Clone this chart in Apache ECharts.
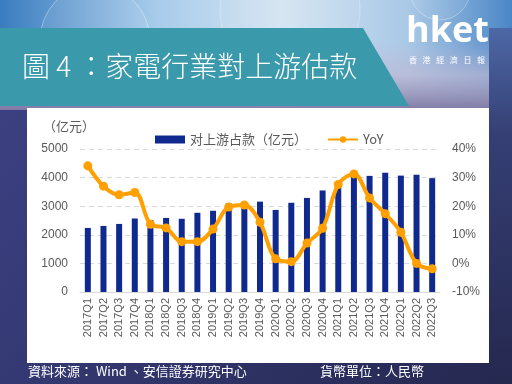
<!DOCTYPE html>
<html>
<head>
<meta charset="utf-8">
<script src="https://cdn.jsdelivr.net/npm/echarts@6/dist/echarts.min.js"></script>
<style>
html,body{margin:0;padding:0;background:#2c2f5c;}
#c{width:512px;height:384px;}
</style>
</head>
<body>
<div id="c"></div>
<script>
const categories = ['2017Q1','2017Q2','2017Q3','2017Q4','2018Q1','2018Q2','2018Q3','2018Q4','2019Q1','2019Q2','2019Q3','2019Q4','2020Q1','2020Q2','2020Q3','2020Q4','2021Q1','2021Q2','2021Q3','2021Q4','2022Q1','2022Q2','2022Q3'];
const upstreamFunds = [2240,2310,2380,2570,2520,2590,2560,2770,2840,3100,3050,3160,2870,3120,3290,3550,3780,4030,4060,4170,4070,4100,3980];
const yoy = [34.1,27.0,24.0,24.8,13.7,12.4,7.6,7.6,12.0,19.7,20.4,14.4,1.6,0.6,7.1,12.3,27.6,31.3,22.9,17.4,10.9,0.0,-1.9];
const leftTicks = {min:0, max:5000, interval:1000};
const rightTicks = {min:-10, max:40, interval:10};

const chart = echarts.init(document.getElementById('c'), null, {renderer:'canvas'});
const cjk = '"Noto Sans CJK TC","Noto Sans CJK SC",sans-serif';
const logoChars = ['香','港','經','濟','日','報'];
const graphics = [
  {type:'rect', z:-20, shape:{x:0,y:0,width:512,height:384},
   style:{fill:new echarts.graphic.LinearGradient(0,0,1,1,[{offset:0,color:'#3e4388'},{offset:1,color:'#25284f'}])}},
  {type:'rect', z:-19, shape:{x:0,y:0,width:512,height:110},
   style:{fill:new echarts.graphic.LinearGradient(0,0,1,0,[{offset:0,color:'#3a7cc0'},{offset:0.3,color:'#a6cbea'},{offset:0.55,color:'#d4e4f2'},{offset:0.8,color:'#a8c8e6'},{offset:1,color:'#4a86c6'}])}},
  {type:'rect', z:-18, shape:{x:0,y:40,width:512,height:70},
   style:{fill:new echarts.graphic.LinearGradient(0,0,0,1,[{offset:0,color:'rgba(190,186,214,0)'},{offset:0.5,color:'rgba(190,184,212,0.7)'},{offset:1,color:'rgba(128,122,164,1)'}])}},
  {type:'circle', z:-17, shape:{cx:95,cy:40,r:55}, style:{fill:'rgba(255,255,255,0.08)',stroke:'rgba(255,255,255,0.35)',lineWidth:1}},
  {type:'circle', z:-17, shape:{cx:290,cy:10,r:70}, style:{fill:'rgba(255,255,255,0.06)',stroke:'rgba(255,255,255,0.3)',lineWidth:1}},
  {type:'circle', z:-17, shape:{cx:440,cy:-10,r:30}, style:{fill:'rgba(255,255,255,0.06)',stroke:'rgba(255,255,255,0.3)',lineWidth:1}},
  {type:'rect', z:-16, shape:{x:489,y:28,width:23,height:356},
   style:{fill:new echarts.graphic.LinearGradient(0,0,0,1,[{offset:0,color:'#4d68a6'},{offset:0.3,color:'#353f74'},{offset:1,color:'#25284f'}])}},
  {type:'polygon', z:-15, shape:{points:[[0,28],[363,28],[409,106],[0,106]]}, style:{fill:'#3a9aab'}},
  {type:'rect', z:-14, shape:{x:27,y:108,width:462,height:255}, style:{fill:'#ffffff'}},
  {type:'text', z:5, left:22, top:52, style:{text:'圖 4 ：家電行業對上游估款', fill:'#ffffff', font:'300 28px '+cjk}},
  {type:'text', z:5, left:406, top:14, style:{text:'hket', fill:'#ffffff', font:'bold 36px "Open Sans",sans-serif'}},
  {type:'text', z:5, left:28, top:365, style:{text:'資料來源： Wind 、安信證券研究中心', fill:'#ffffff', font:'13px '+cjk}},
  {type:'text', z:5, left:320, top:365, style:{text:'貨幣單位：人民幣', fill:'#ffffff', font:'13px '+cjk}},
  {type:'text', z:5, left:43, top:120, style:{text:'（亿元）', fill:'#595959', font:'13px "Noto Sans CJK SC",sans-serif'}}
];
logoChars.forEach((ch,i)=>{
  graphics.push({type:'text', z:5, left:409+i*13.6, top:56, style:{text:ch, fill:'#ffffff', font:'8px '+cjk}});
});

chart.setOption({
  animation:false,
  graphic:graphics,
  legend:{
    top:128, left:150, itemWidth:30, itemHeight:8, itemGap:20,
    textStyle:{fontSize:13, color:'#595959', fontFamily:'"Noto Sans CJK SC",sans-serif'},
    data:[{name:'对上游占款（亿元）', icon:'rect'},{name:'YoY'}]
  },
  grid:{left:80, right:72, top:149, bottom:92},
  xAxis:{
    type:'category', data:categories,
    axisTick:{show:false},
    axisLine:{lineStyle:{color:'#d9d9d9'}},
    axisLabel:{rotate:90, interval:0, fontSize:11, color:'#595959', margin:6, fontFamily:'"Liberation Sans",Arial,sans-serif'}
  },
  yAxis:[
    {type:'value', min:leftTicks.min, max:leftTicks.max, interval:leftTicks.interval,
     axisLabel:{formatter:function(v){return String(v);}, fontSize:12, color:'#595959', margin:12, fontFamily:'"Liberation Sans",Arial,sans-serif'},
     axisLine:{show:false}, axisTick:{show:false},
     splitLine:{lineStyle:{color:'#d9d9d9', type:[5,4], width:1}}},
    {type:'value', min:rightTicks.min, max:rightTicks.max, interval:rightTicks.interval,
     axisLabel:{formatter:'{value}%', fontSize:12, color:'#595959', margin:12, fontFamily:'"Liberation Sans",Arial,sans-serif'},
     axisLine:{show:false}, axisTick:{show:false}, splitLine:{show:false}}
  ],
  series:[
    {name:'对上游占款（亿元）', type:'bar', data:upstreamFunds, barWidth:6, itemStyle:{color:'#10298e'}},
    {name:'YoY', type:'line', yAxisIndex:1, data:yoy, smooth:0.35, symbol:'circle', symbolSize:9,
     lineStyle:{width:4, color:'#ffa000'}, itemStyle:{color:'#ffa000'}, z:3}
  ]
});
</script>
</body>
</html>
